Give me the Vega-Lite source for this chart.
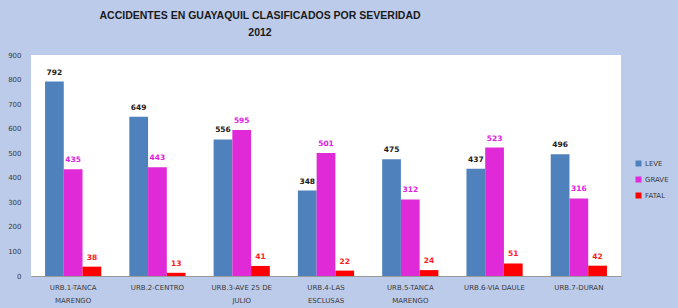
{
  "$schema": "https://vega.github.io/schema/vega-lite/v6.json",
  "autosize": {"type": "none"},
  "width": 590,
  "height": 221,
  "padding": {"left": 31, "top": 55, "right": 57, "bottom": 32},
  "background": "#bdcbea",
  "title": {
    "text": "ACCIDENTES EN GUAYAQUIL CLASIFICADOS POR SEVERIDAD",
    "subtitle": "2012",
    "anchor": "middle",
    "dx": -66,
    "offset": 13,
    "font": "Liberation Sans",
    "fontSize": 10.5,
    "fontWeight": "bold",
    "color": "#1a1a1a",
    "subtitleFont": "Liberation Sans",
    "subtitleFontSize": 10.5,
    "subtitleFontWeight": "bold",
    "subtitleColor": "#1a1a1a",
    "subtitlePadding": 6
  },
  "data": {
    "values": [
      {"zona": "URB.1-TANCA MARENGO", "severidad": "LEVE", "accidentes": 792},
      {"zona": "URB.1-TANCA MARENGO", "severidad": "GRAVE", "accidentes": 435},
      {"zona": "URB.1-TANCA MARENGO", "severidad": "FATAL", "accidentes": 38},
      {"zona": "URB.2-CENTRO", "severidad": "LEVE", "accidentes": 649},
      {"zona": "URB.2-CENTRO", "severidad": "GRAVE", "accidentes": 443},
      {"zona": "URB.2-CENTRO", "severidad": "FATAL", "accidentes": 13},
      {"zona": "URB.3-AVE 25 DE JULIO", "severidad": "LEVE", "accidentes": 556},
      {"zona": "URB.3-AVE 25 DE JULIO", "severidad": "GRAVE", "accidentes": 595},
      {"zona": "URB.3-AVE 25 DE JULIO", "severidad": "FATAL", "accidentes": 41},
      {"zona": "URB.4-LAS ESCLUSAS", "severidad": "LEVE", "accidentes": 348},
      {"zona": "URB.4-LAS ESCLUSAS", "severidad": "GRAVE", "accidentes": 501},
      {"zona": "URB.4-LAS ESCLUSAS", "severidad": "FATAL", "accidentes": 22},
      {"zona": "URB.5-TANCA MARENGO", "severidad": "LEVE", "accidentes": 475},
      {"zona": "URB.5-TANCA MARENGO", "severidad": "GRAVE", "accidentes": 312},
      {"zona": "URB.5-TANCA MARENGO", "severidad": "FATAL", "accidentes": 24},
      {"zona": "URB.6-VIA DAULE", "severidad": "LEVE", "accidentes": 437},
      {"zona": "URB.6-VIA DAULE", "severidad": "GRAVE", "accidentes": 523},
      {"zona": "URB.6-VIA DAULE", "severidad": "FATAL", "accidentes": 51},
      {"zona": "URB.7-DURAN", "severidad": "LEVE", "accidentes": 496},
      {"zona": "URB.7-DURAN", "severidad": "GRAVE", "accidentes": 316},
      {"zona": "URB.7-DURAN", "severidad": "FATAL", "accidentes": 42}
    ]
  },
  "encoding": {
    "x": {
      "field": "zona",
      "type": "nominal",
      "sort": null,
      "scale": {"paddingInner": 0.333, "paddingOuter": 0.1667},
      "axis": {
        "title": null,
        "labelAngle": 0,
        "labelFont": "DejaVu Sans",
        "labelFontSize": 7,
        "labelColor": "#3a3a3a",
        "labelPadding": 7,
        "labelLineHeight": 13,
        "labelExpr": "length(datum.label) > 15 ? [slice(datum.label, 0, lastindexof(datum.label, ' ')), slice(datum.label, lastindexof(datum.label, ' ') + 1)] : datum.label",
        "ticks": false,
        "domainColor": "#9a9a9a",
        "domainWidth": 1
      }
    },
    "xOffset": {"field": "severidad", "type": "nominal", "sort": ["LEVE", "GRAVE", "FATAL"]},
    "y": {
      "field": "accidentes",
      "type": "quantitative",
      "scale": {"domain": [0, 900], "nice": false},
      "axis": {
        "title": null,
        "values": [0, 100, 200, 300, 400, 500, 600, 700, 800, 900],
        "grid": false,
        "ticks": false,
        "domain": false,
        "labelFont": "DejaVu Sans",
        "labelFontSize": 7,
        "labelColor": "#3a3a3a",
        "labelPadding": 10
      }
    }
  },
  "layer": [
    {
      "mark": {"type": "bar"},
      "encoding": {
        "color": {
          "field": "severidad",
          "type": "nominal",
          "sort": ["LEVE", "GRAVE", "FATAL"],
          "scale": {"domain": ["LEVE", "GRAVE", "FATAL"], "range": ["#4f81bd", "#e02ad8", "#ff0000"]},
          "legend": {
            "title": null,
            "orient": "none",
            "legendX": 604,
            "legendY": 105,
            "symbolType": "square",
            "symbolSize": 36,
            "symbolStrokeWidth": 0,
            "rowPadding": 8,
            "labelFont": "DejaVu Sans",
            "labelFontSize": 7,
            "labelColor": "#3a3a3a",
            "labelOffset": 3
          }
        }
      }
    },
    {
      "mark": {"type": "text", "baseline": "bottom", "dy": -5, "font": "DejaVu Sans", "fontSize": 7.5, "fontWeight": "bold"},
      "encoding": {
        "text": {"field": "accidentes", "type": "quantitative"},
        "color": {
          "field": "severidad",
          "type": "nominal",
          "scale": {"domain": ["LEVE", "GRAVE", "FATAL"], "range": ["#4f81bd", "#e02ad8", "#ff0000"]},
          "legend": null
        },
        "fill": {
          "field": "severidad",
          "type": "nominal",
          "scale": {"domain": ["LEVE", "GRAVE", "FATAL"], "range": ["#1a1a1a", "#e020e0", "#ff1a1a"]},
          "legend": null
        }
      }
    }
  ],
  "resolve": {"scale": {"fill": "independent"}},
  "config": {
    "view": {"fill": "#ffffff", "stroke": null}
  }
}
